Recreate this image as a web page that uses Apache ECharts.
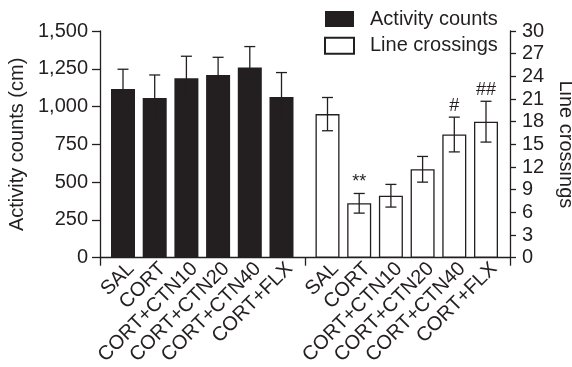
<!DOCTYPE html>
<html><head><meta charset="utf-8">
<script src="https://cdn.jsdelivr.net/npm/echarts@6/dist/echarts.min.js"></script>
<style>html,body{margin:0;padding:0;background:#fff}#c{width:572px;height:367px}</style>
</head><body><div id="c"></div>
<script>
var categories = ['SAL', 'CORT', 'CORT+CTN10', 'CORT+CTN20', 'CORT+CTN40', 'CORT+FLX'];
var activity = [1117, 1057, 1187, 1209, 1258, 1064];
var activityErr = [130, 152, 146, 117, 139, 161];
var crossings = [19.0, 7.2, 8.2, 11.7, 16.3, 18.0];
var crossingsErr = [2.2, 1.3, 1.5, 1.7, 2.3, 2.7];
var crossingsMarks = ['', '**', '', '', '#', '##'];
var leftTicks = [0, 250, 500, 750, 1000, 1250, 1500];
var rightTicks = [0, 3, 6, 9, 12, 15, 18, 21, 24, 27, 30];

var INK = '#231f20';
var FONT = 'Liberation Sans, Arial, sans-serif';
var FS = 20;
var LABEL_SHIFT = 8;

function errSeries(name, vals, errs, marks, xi, yi) {
  return {
    type: 'custom', name: name + ' err', xAxisIndex: xi, yAxisIndex: yi, z: 5,
    silent: true,
    data: vals.map(function (v, i) { return [i, v, errs[i]]; }),
    renderItem: function (params, api) {
      var x = api.value(0), v = api.value(1), e = api.value(2);
      var top = api.coord([x, v + e]);
      var bot = api.coord([x, v - e]);
      var hw = 5.5;
      var style = { stroke: INK, lineWidth: 1.3 };
      var children = [
        { type: 'line', shape: { x1: top[0], y1: top[1], x2: bot[0], y2: bot[1] }, style: style },
        { type: 'line', shape: { x1: top[0] - hw, y1: top[1], x2: top[0] + hw, y2: top[1] }, style: style },
        { type: 'line', shape: { x1: bot[0] - hw, y1: bot[1], x2: bot[0] + hw, y2: bot[1] }, style: style }
      ];
      var m = marks ? marks[params.dataIndex] : '';
      if (m) {
        children.push({ type: 'text', x: top[0], y: top[1] - 2,
          style: { text: m, fill: INK, font: '18px ' + FONT, align: 'center', verticalAlign: 'bottom' } });
      }
      return { type: 'group', children: children };
    }
  };
}

function catAxis(gi, showLabel) {
  return { type: 'category', gridIndex: gi, data: categories,
    axisLine: { show: false }, axisTick: { show: false }, splitLine: { show: false },
    axisLabel: { show: showLabel, interval: 0, rotate: 45, fontSize: FS, color: INK, fontFamily: FONT, margin: 8 } };
}

var gTop = 31, gBottom = 109.3, gW = 190.2, g1L = 107.15, g2L = 311.65;
function grid(o) { o.outerBoundsMode = 'none'; o.containLabel = false; return o; }

var chart = echarts.init(document.getElementById('c'));
chart.setOption({
  animation: false,
  backgroundColor: '#fff',
  textStyle: { fontFamily: FONT, color: INK },
  legend: {
    orient: 'vertical', left: 319, top: 4, itemWidth: 29, itemHeight: 16, itemGap: 6.7,
    icon: 'rect', data: ['Activity counts', 'Line crossings'],
    textStyle: { fontSize: FS, color: INK, fontFamily: FONT, lineHeight: 16, padding: [0, 0, 0, 11] },
    selectedMode: false
  },
  grid: [
    grid({ left: 100, right: 62, top: gTop, bottom: gBottom }),
    grid({ left: g1L, width: gW, top: gTop, bottom: gBottom }),
    grid({ left: g2L, width: gW, top: gTop, bottom: gBottom }),
    grid({ left: g1L + LABEL_SHIFT, width: gW, top: gTop, bottom: gBottom }),
    grid({ left: g2L + LABEL_SHIFT, width: gW, top: gTop, bottom: gBottom })
  ],
  xAxis: [
    { type: 'value', gridIndex: 0, min: 0, max: 2, interval: 1,
      axisLine: { lineStyle: { color: INK, width: 1.3 } },
      axisTick: { show: true, length: 8, lineStyle: { color: INK, width: 1.3 } },
      axisLabel: { show: false }, splitLine: { show: false } },
    catAxis(1, false),
    catAxis(2, false),
    catAxis(3, true),
    catAxis(4, true)
  ],
  yAxis: [
    { type: 'value', gridIndex: 0, position: 'left', min: leftTicks[0], max: leftTicks[leftTicks.length - 1], interval: leftTicks[1] - leftTicks[0],
      name: 'Activity counts (cm)', nameLocation: 'middle', nameGap: 66,
      nameTextStyle: { fontSize: FS, color: INK, fontFamily: FONT },
      axisLine: { show: true, lineStyle: { color: INK, width: 1.3 } },
      axisTick: { show: true, length: 8, lineStyle: { color: INK, width: 1.3 } },
      axisLabel: { fontSize: FS, color: INK, fontFamily: FONT, margin: 12,
        formatter: function (v) { return v.toLocaleString('en-US'); } },
      splitLine: { show: false } },
    { type: 'value', gridIndex: 0, position: 'right', min: rightTicks[0], max: rightTicks[rightTicks.length - 1], interval: rightTicks[1] - rightTicks[0],
      name: 'Line crossings', nameLocation: 'middle', nameGap: 43, nameRotate: -90,
      nameTextStyle: { fontSize: FS, color: INK, fontFamily: FONT },
      axisLine: { show: true, lineStyle: { color: INK, width: 1.3 } },
      axisTick: { show: true, length: 6, lineStyle: { color: INK, width: 1.3 } },
      axisLabel: { fontSize: FS, color: INK, fontFamily: FONT, margin: 12 },
      splitLine: { show: false } },
    { type: 'value', gridIndex: 1, min: 0, max: 1500, show: false },
    { type: 'value', gridIndex: 2, min: 0, max: 30, show: false },
    { type: 'value', gridIndex: 3, min: 0, max: 1, show: false },
    { type: 'value', gridIndex: 4, min: 0, max: 1, show: false }
  ],
  series: [
    { type: 'bar', name: 'Activity counts', xAxisIndex: 1, yAxisIndex: 2, data: activity, barWidth: 24,
      itemStyle: { color: INK } },
    errSeries('Activity counts', activity, activityErr, null, 1, 2),
    { type: 'bar', name: 'Line crossings', xAxisIndex: 2, yAxisIndex: 3, data: crossings, barWidth: 24,
      itemStyle: { color: '#fff', borderColor: INK, borderWidth: 1.3 } },
    errSeries('Line crossings', crossings, crossingsErr, crossingsMarks, 2, 3)
  ]
});
</script></body></html>
